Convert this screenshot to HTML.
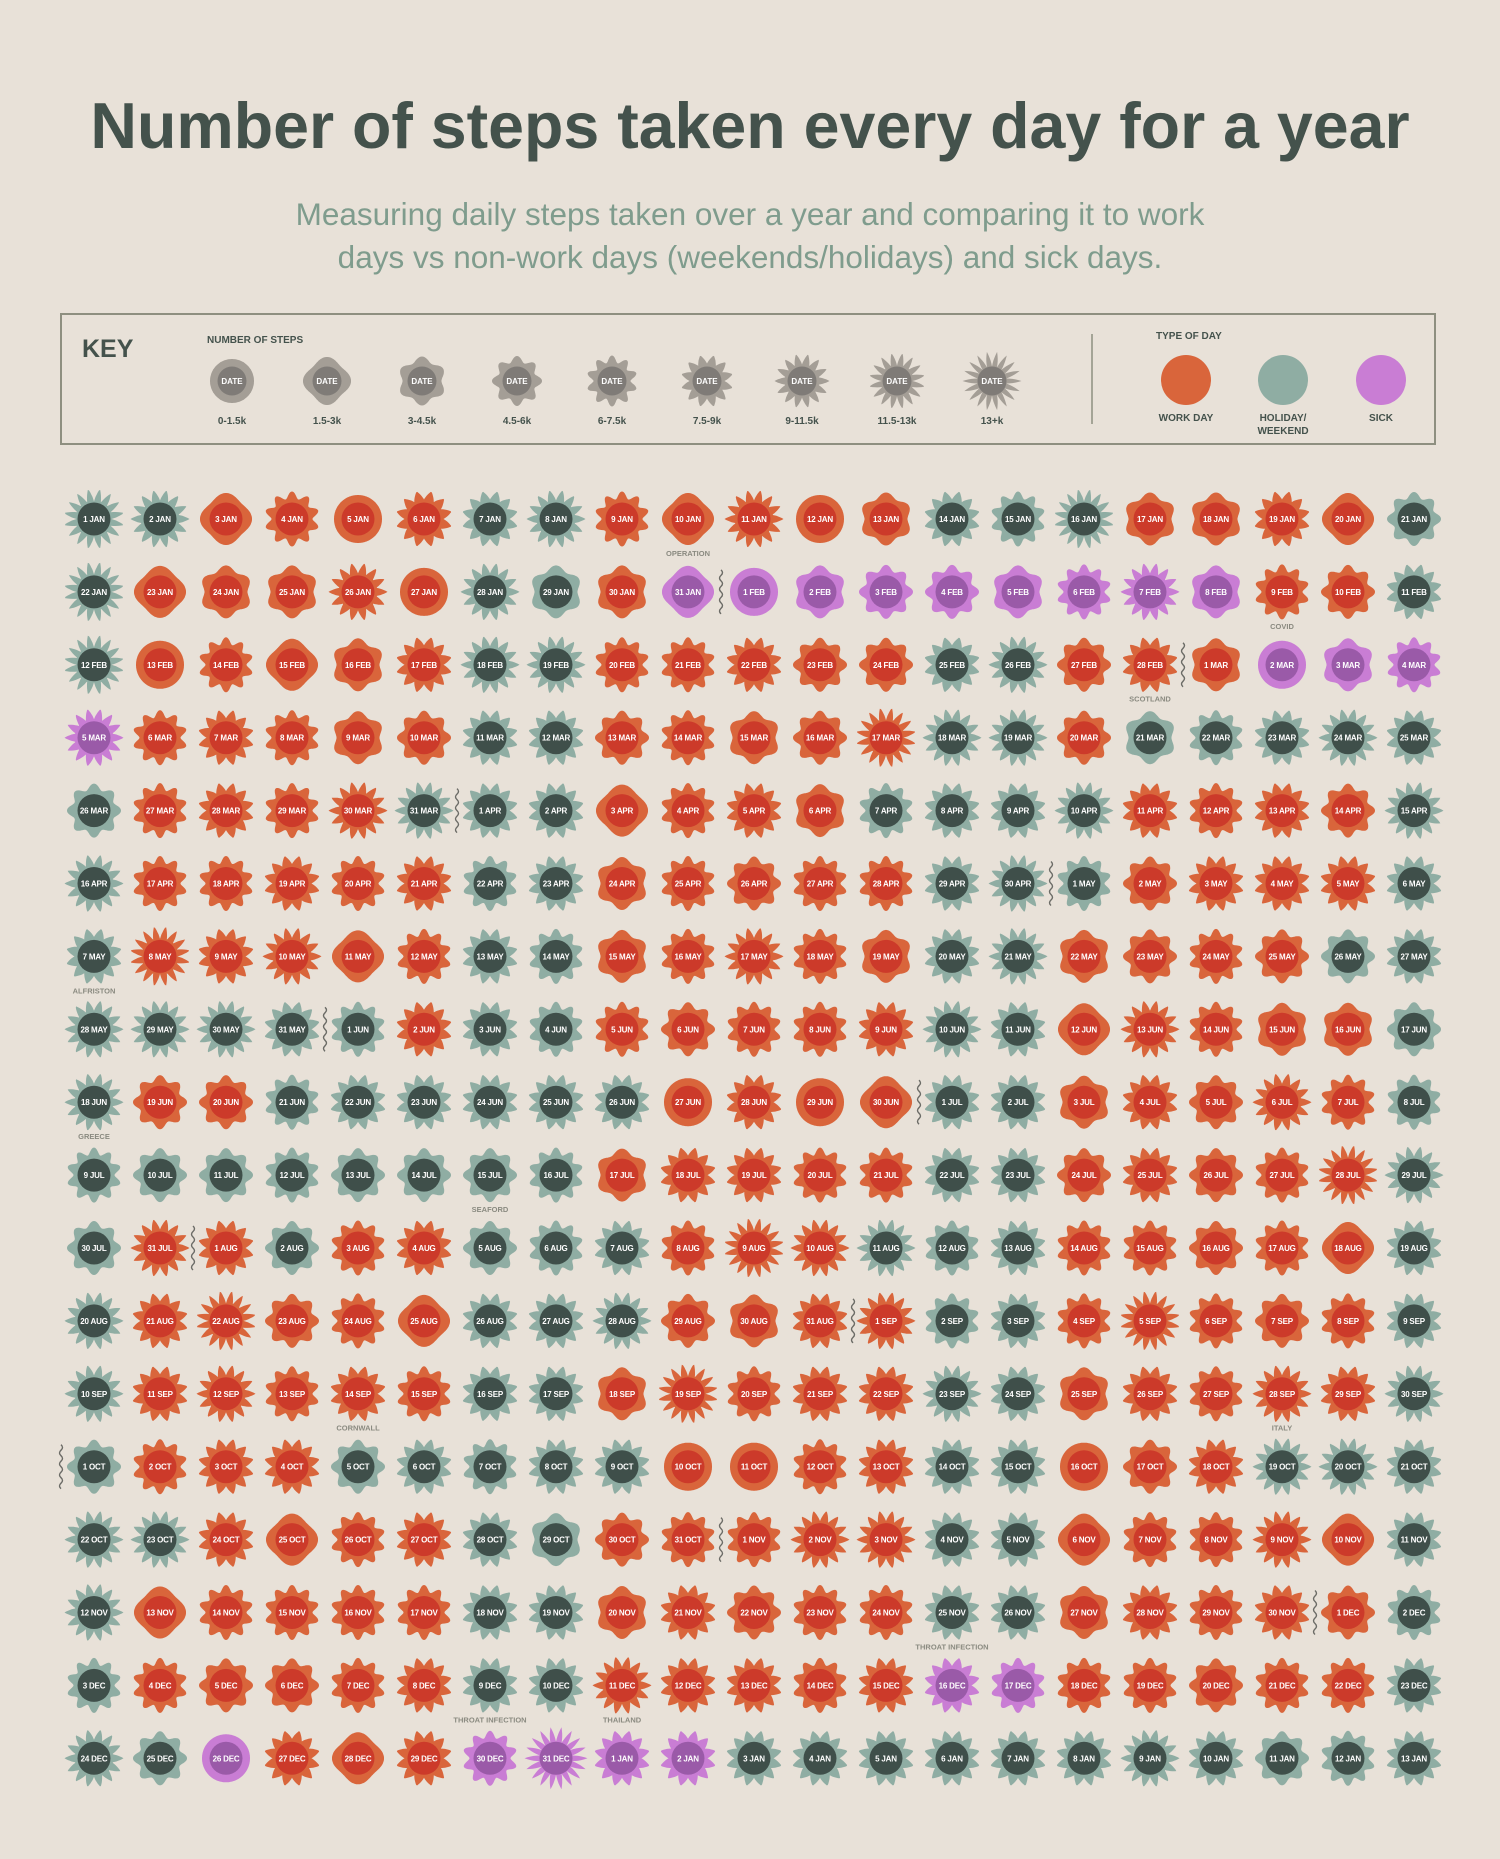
<!DOCTYPE html>
<html><head><meta charset="utf-8"><style>
html,body{margin:0;padding:0;background:#e8e1d8;}
svg{display:block;font-family:"Liberation Sans",sans-serif;}
</style></head><body>
<svg id="chart" width="1500" height="1859" viewBox="0 0 1500 1859">
<rect x="0" y="0" width="1500" height="1859" fill="#e8e1d8"/>
<text x="750" y="148" text-anchor="middle" font-size="64.5" font-weight="bold" fill="#44524c">Number of steps taken every day for a year</text>
<text x="750" y="225" text-anchor="middle" font-size="31.5" fill="#7f9c8d">Measuring daily steps taken over a year and comparing it to work</text>
<text x="750" y="268" text-anchor="middle" font-size="31.5" fill="#7f9c8d">days vs non-work days (weekends/holidays) and sick days.</text>
<g id="key">
<rect x="61" y="314" width="1374" height="130" fill="none" stroke="#8e8f80" stroke-width="2"/>
<text x="82" y="357" font-size="25" font-weight="bold" fill="#44524c">KEY</text>
<text x="207" y="343" font-size="10" font-weight="bold" fill="#44524c">NUMBER OF STEPS</text>
<line x1="1092" y1="334" x2="1092" y2="424" stroke="#8e8f80" stroke-width="1.5"/>
<text x="1156" y="339" font-size="10" font-weight="bold" fill="#44524c">TYPE OF DAY</text>
<circle cx="1186" cy="380" r="25" fill="#d9653b"/>
<circle cx="1283" cy="380" r="25" fill="#8fada3"/>
<circle cx="1381" cy="380" r="25" fill="#c97dd4"/>
<text x="1186" y="421" text-anchor="middle" font-size="10" font-weight="bold" fill="#44524c">WORK DAY</text>
<text x="1283" y="421" text-anchor="middle" font-size="10" font-weight="bold" fill="#44524c">HOLIDAY/</text>
<text x="1283" y="434" text-anchor="middle" font-size="10" font-weight="bold" fill="#44524c">WEEKEND</text>
<text x="1381" y="421" text-anchor="middle" font-size="10" font-weight="bold" fill="#44524c">SICK</text>
</g>
<g id="grid"></g>
</svg>
<script>
const monthNames = ["JAN","FEB","MAR","APR","MAY","JUN","JUL","AUG","SEP","OCT","NOV","DEC"];
const monthDays = [31,28,31,30,31,30,31,31,30,31,30,31];
const keyLabels = ["0-1.5k","1.5-3k","3-4.5k","4.5-6k","6-7.5k","7.5-9k","9-11.5k","11.5-13k","13+k"];
// W = work day, H = holiday/weekend, S = sick; one string per row of 21 days
const typeRows = [
"HHWWWWHHWWWWWHHHWWWWH",
"HWWWWWHHWSSSSSSSSSWWH",
"HWWWWWHHWWWWWHHWWWSSS",
"SWWWWWHHWWWWWHHWHHHHH",
"HWWWWHHHWWWWHHHHWWWWH",
"HWWWWWHHWWWWWHHHWWWWH",
"HWWWWWHHWWWWWHHWWWWHH",
"HHHHHWHHWWWWWHHWWWWWH",
"HWWHHHHHHWWWWHHWWWWWH",
"HHHHHHHHWWWWWHHWWWWWH",
"HWWHWWHHHWWWHHHWWWWWH",
"HWWWWWHHHWWWWHHWWWWWH",
"HWWWWWHHWWWWWHHWWWWWH",
"HWWWHHHHHWWWWHHWWWHHH",
"HHWWWWHHWWWWWHHWWWWWH",
"HWWWWWHHWWWWWHHWWWWWH",
"HWWWWWHHWWWWWSSWWWWWH",
"HHSWWWSSSSHHHHHHHHHHH"];
// step level 0..8 (key buckets) per day
const levelRows = [
[7,6,1,4,0,5,5,6,4,1,6,0,2,5,4,7,2,2,5,1,3],
[7,1,2,2,6,0,6,2,2,1,0,2,3,3,2,4,6,2,4,3,5],
[7,0,4,1,2,5,6,6,4,4,5,3,3,5,6,3,5,2,0,2,4],
[6,4,5,4,2,3,5,5,3,4,2,3,7,6,6,3,2,4,5,6,5],
[3,4,5,4,6,6,5,5,1,4,5,2,4,5,5,6,5,4,5,3,6],
[6,4,4,5,4,5,4,5,2,4,3,4,4,5,6,4,3,5,5,5,5],
[5,7,5,6,1,4,5,4,2,4,6,4,2,5,6,2,3,4,3,3,5],
[6,6,6,5,4,5,5,4,4,3,4,4,5,6,5,1,6,4,2,2,3],
[6,3,3,4,5,5,5,5,5,0,5,0,1,5,5,2,5,3,6,4,4],
[4,3,3,4,3,3,3,4,2,5,5,4,4,5,5,3,5,3,4,7,6],
[3,6,5,3,4,5,3,4,5,4,7,6,6,4,5,4,4,3,4,1,5],
[6,5,7,3,4,1,5,5,6,3,2,5,6,4,5,4,7,4,3,4,5],
[6,5,6,4,5,4,5,5,2,7,4,5,5,6,5,2,5,4,6,5,6],
[3,4,5,5,3,5,4,5,5,0,0,4,5,5,5,0,3,5,6,6,5],
[6,6,5,1,4,5,5,2,3,4,4,6,6,5,5,1,4,4,6,1,5],
[6,1,4,4,4,4,5,5,2,5,3,4,4,5,5,2,5,4,5,3,4],
[4,4,3,3,4,5,5,5,6,5,5,4,5,5,4,4,4,3,4,4,5],
[6,3,0,5,1,5,4,8,5,5,5,5,5,5,5,5,6,5,3,4,5]];
const noteDays = [30,60,79,147,189,216,277,291,349,363,365];
const noteTexts = ["OPERATION","COVID","SCOTLAND","ALFRISTON","GREECE","SEAFORD","CORNWALL","ITALY","THROAT INFECTION","THROAT INFECTION","THAILAND"];

const NS = "http://www.w3.org/2000/svg";
const X0 = 94, DX = 66, Y0 = 519, DY = 72.9;
const colX = c => X0 + c * DX;
const rowY = r => Y0 + r * DY;
const spikes = [0,4,6,8,10,12,14,16,18];
const amps = [0,2,2.5,3,3.5,4.5,5.5,6.5,7.5];
const palette = {W:["#d9653b","#cc3a2a"],H:["#8fada3","#3f4f4a"],S:["#c97dd4","#9a5aa8"],K:["#a49e96","#7f7b77"]};

function shapePath(lv, cx, cy, R){
  const k = spikes[lv], a = amps[lv];
  let d = "";
  const N = 180;
  for(let i=0;i<=N;i++){
    const t = i/N*Math.PI*2;
    let w = 0;
    if(k>0){
      const ph = (k*t/(2*Math.PI)) % 1;
      w = lv>=5 ? (1-4*Math.abs(ph-0.5)) : Math.cos(k*t);
    }
    const r = R + a*w;
    const x = cx + r*Math.sin(t), y = cy - r*Math.cos(t);
    d += (i?"L":"M")+x.toFixed(1)+","+y.toFixed(1);
  }
  return d+"Z";
}
function el(tag, attrs, parent){
  const e = document.createElementNS(NS, tag);
  for(const k in attrs) e.setAttribute(k, attrs[k]);
  parent.appendChild(e);
  return e;
}
const svg = document.getElementById("chart");
const grid = document.getElementById("grid");

keyLabels.forEach((lab,i)=>{
  const cx = 232 + i*95, cy = 381;
  const g = el("g",{},svg);
  
  
  el("path",{d:shapePath(i,cx,cy,22),fill:palette.K[0]},g);
  el("circle",{cx:cx,cy:cy,r:14.5,fill:palette.K[1]},g);
  el("text",{x:cx,y:cy+3,"text-anchor":"middle","font-size":"8","font-weight":"bold",fill:"#fff"},g).textContent="DATE";
  const t = el("text",{x:cx,y:424,"text-anchor":"middle","font-size":"10","font-weight":"bold",fill:"#44524c"},svg);
  t.textContent = lab;
  
  
});

let m = 0, dd = 1;
for(let r=0;r<typeRows.length;r++){
  for(let c=0;c<21;c++){
    const idx = r*21+c;
    const type = typeRows[r][c], lv = levelRows[r][c];
    const cx = colX(c), cy = rowY(r);
    const label = dd + " " + monthNames[m%12];
    const g = el("g",{},grid);
    
    
    el("path",{d:shapePath(lv,cx,cy,24),fill:palette[type][0]},g);
    el("circle",{cx:cx,cy:cy,r:16.5,fill:palette[type][1]},g);
    el("text",{x:cx,y:cy+3,"text-anchor":"middle","font-size":"8","font-weight":"bold",fill:"#fff","letter-spacing":"-0.2"},g).textContent = label;
    if(dd===1 && idx>0 && m<12){
      const sx = cx-33;
      let p = "M"+sx+","+(cy-22);
      for(let j=1;j<=8;j++) p += " Q"+(sx+(j%2?3:-3))+","+(cy-22+(j-0.5)*5.5)+" "+sx+","+(cy-22+j*5.5);
      const sq = el("path",{d:p,fill:"none",stroke:"#6b6b66","stroke-width":"1.4"},grid);
      
      
    }
    const ni = noteDays.indexOf(idx);
    if(ni>=0){
      const t = el("text",{x:cx,y:cy-36,"text-anchor":"middle","font-size":"7.5","font-weight":"bold",fill:"#8a8a80"},grid);
      t.textContent = noteTexts[ni];
      
      
    }
    dd++;
    if(dd>monthDays[m%12]){dd=1;m++;}
  }
}
</script>
</body></html>
